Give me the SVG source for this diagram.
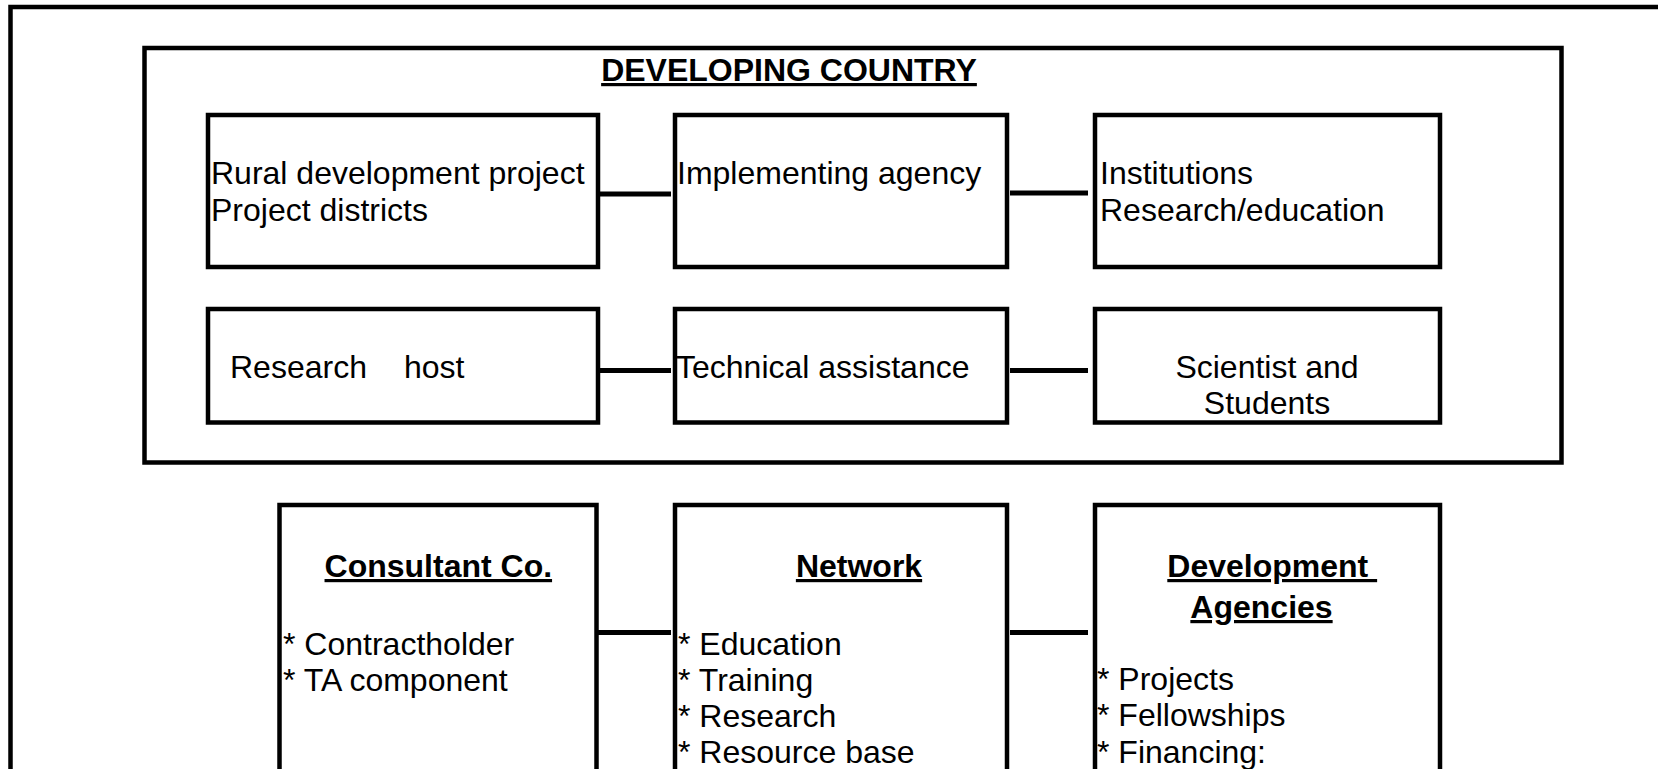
<svg xmlns="http://www.w3.org/2000/svg" width="1658" height="769" viewBox="0 0 1658 769">
<style>
.box{fill:none;stroke:#000;stroke-width:4.5}
.frame{fill:none;stroke:#000;stroke-width:4.5}
.conn{stroke:#000;stroke-width:5;fill:none}
text{font-family:"Liberation Sans",Arial,sans-serif;font-size:32px;fill:#000}
.b{font-weight:bold;text-decoration:underline}
.mid{text-anchor:middle}
</style>
<rect width="1658" height="769" fill="#fff"/>
<rect class="frame" x="10.5" y="7" width="1700" height="800"/>
<g id="developing-country">
<rect class="frame" x="144.5" y="48" width="1417" height="414.5"/>
<text class="b mid" x="789" y="81">DEVELOPING COUNTRY</text>
</g>
<g id="rural">
<rect class="box" x="208" y="115" width="390" height="152"/>
<text x="211" y="184">Rural development project</text>
<text x="211" y="221">Project districts</text>
</g>
<g id="implementing">
<rect class="box" x="675" y="115" width="332" height="152"/>
<text x="677" y="184">Implementing agency</text>
</g>
<g id="institutions">
<rect class="box" x="1095" y="115" width="345" height="152"/>
<text x="1100" y="184">Institutions</text>
<text x="1100" y="221">Research/education</text>
</g>
<g id="research-host">
<rect class="box" x="208" y="309" width="390" height="113.5"/>
<text y="377.5"><tspan x="230">Research</tspan><tspan x="404">host</tspan></text>
</g>
<g id="technical">
<rect class="box" x="675" y="309" width="332" height="113.5"/>
<text x="676" y="377.5">Technical assistance</text>
</g>
<g id="scientist">
<rect class="box" x="1095" y="309" width="345" height="113.5"/>
<text class="mid" x="1267" y="377.5">Scientist and</text>
<text class="mid" x="1267" y="414">Students</text>
</g>
<g id="consultant">
<rect class="box" x="279.5" y="505" width="317" height="400"/>
<text class="b mid" x="438.3" y="577">Consultant Co.</text>
<text x="283" y="654.5">* Contractholder</text>
<text x="283" y="690.5">* TA component</text>
</g>
<g id="network">
<rect class="box" x="675" y="505" width="332" height="400"/>
<text class="b mid" x="859" y="577">Network</text>
<text x="678" y="654.5">* Education</text>
<text x="678" y="690.5">* Training</text>
<text x="678" y="727">* Research</text>
<text x="678" y="762.5">* Resource base</text>
</g>
<g id="development-agencies">
<rect class="box" x="1095" y="505" width="345" height="400"/>
<text class="b" x="1167.3" y="577" style="white-space:pre">Development </text>
<text class="b mid" x="1261.5" y="618">Agencies</text>
<text x="1097" y="690">* Projects</text>
<text x="1097" y="726">* Fellowships</text>
<text x="1097" y="762.5">* Financing:</text>
</g>
<g id="connectors">
<line class="conn" x1="597" y1="194" x2="671" y2="194"/>
<line class="conn" x1="1010" y1="193" x2="1088" y2="193"/>
<line class="conn" x1="597" y1="370.5" x2="671" y2="370.5"/>
<line class="conn" x1="1010" y1="370.5" x2="1088" y2="370.5"/>
<line class="conn" x1="597" y1="632.5" x2="671" y2="632.5"/>
<line class="conn" x1="1010" y1="632.5" x2="1088" y2="632.5"/>
</g>
</svg>
